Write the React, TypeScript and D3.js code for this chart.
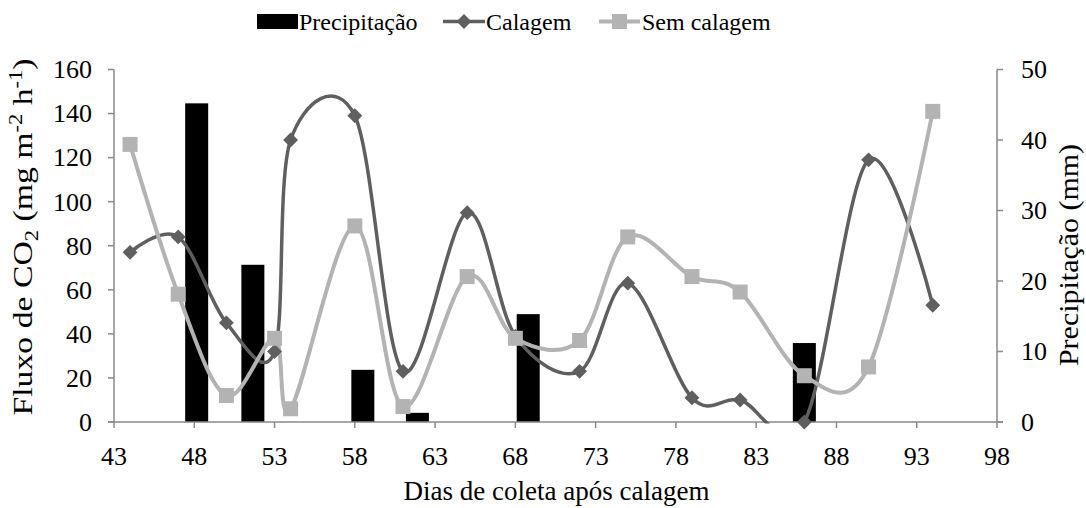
import React from "react";
import * as d3 from "d3";

// Sampling days after liming
const days = [44, 47, 50, 53, 54, 58, 61, 65, 68, 72, 75, 79, 82, 86, 90, 94];
// CO2 flux (mg m-2 h-1) with liming
const calagem = [77, 84, 45, 32, 128, 139, 23, 95, 39, 23, 63, 11, 10, 0, 119, 53];
// CO2 flux (mg m-2 h-1) without liming
const semCalagem = [126, 58, 12, 38, 6, 89, 7, 66, 38, 37, 84, 66, 59, 21, 25, 141];
// Rainfall events (day, mm)
const rainDays = [48.15, 51.65, 58.5, 61.9, 68.8, 86.0];
const rainMm = [45.2, 22.3, 7.4, 1.3, 15.3, 11.2];

const xTicks = [43, 48, 53, 58, 63, 68, 73, 78, 83, 88, 93, 98];
const leftTicks = [0, 20, 40, 60, 80, 100, 120, 140, 160];
const rightTicks = [0, 10, 20, 30, 40, 50];

const W = 1086;
const H = 508;
const L = 114;
const R = 997;
const T = 69.5;
const B = 422;

const FONT = "'Liberation Serif', 'Times New Roman', serif";
const AXIS = "#898989";
const DARK = "#5f5f5f";
const LIGHT = "#b3b3b3";

export default function App() {
  const x = d3.scaleLinear().domain([43, 98]).range([L, R]);
  const yL = d3.scaleLinear().domain([0, 160]).range([B, T]);
  const yR = d3.scaleLinear().domain([0, 50]).range([B, T]);

  const line = d3
    .line<[number, number]>()
    .x((d) => x(d[0]))
    .y((d) => yL(d[1]))
    .curve(d3.curveCatmullRom.alpha(0));

  const calPts = days.map((d, i) => [d, calagem[i]] as [number, number]);
  const semPts = days.map((d, i) => [d, semCalagem[i]] as [number, number]);

  const diamond = d3.symbol(d3.symbolSquare, 110)() as string;
  const square = d3.symbol(d3.symbolSquare, 225)() as string;
  const barW = 23;

  return (
    <svg
      width={W}
      height={H}
      style={{ position: "absolute", left: 0, top: 0, fontFamily: FONT }}
    >
      <rect x={0} y={0} width={W} height={H} fill="#fff" />
      <defs>
        <clipPath id="plotClip">
          <rect x={L} y={0} width={R - L} height={B + 1.5} />
        </clipPath>
      </defs>

      {/* rainfall bars */}
      {rainDays.map((d, i) => (
        <rect
          key={"bar" + i}
          x={x(d) - barW / 2}
          y={yR(rainMm[i])}
          width={barW}
          height={B - yR(rainMm[i])}
          fill="#000"
        />
      ))}

      {/* axes */}
      <line x1={L} x2={L} y1={T} y2={B} stroke={AXIS} strokeWidth={1.5} />
      <line x1={R} x2={R} y1={T} y2={B} stroke={AXIS} strokeWidth={1.5} />
      <line x1={L - 6} x2={R + 6} y1={B} y2={B} stroke={AXIS} strokeWidth={1.5} />
      {leftTicks.map((t) => (
        <g key={"lt" + t}>
          <line x1={L - 6} x2={L} y1={yL(t)} y2={yL(t)} stroke={AXIS} strokeWidth={1.5} />
          <text x={92} y={yL(t)} dy="0.34em" textAnchor="end" fontSize={26} fill="#000">
            {t}
          </text>
        </g>
      ))}
      {rightTicks.map((t) => (
        <g key={"rt" + t}>
          <line x1={R} x2={R + 6} y1={yR(t)} y2={yR(t)} stroke={AXIS} strokeWidth={1.5} />
          <text x={1021} y={yR(t)} dy="0.34em" textAnchor="start" fontSize={26} fill="#000">
            {t}
          </text>
        </g>
      ))}
      {xTicks.map((t) => (
        <g key={"xt" + t}>
          <line x1={x(t)} x2={x(t)} y1={B} y2={B + 6} stroke={AXIS} strokeWidth={1.5} />
          <text x={x(t)} y={465} textAnchor="middle" fontSize={26} fill="#000">
            {t}
          </text>
        </g>
      ))}

      {/* flux lines */}
      <g clipPath="url(#plotClip)">
        <path d={line(calPts) as string} fill="none" stroke={DARK} strokeWidth={3.5} />
        <path d={line(semPts) as string} fill="none" stroke={LIGHT} strokeWidth={4} />
      </g>
      {calPts.map((p, i) => (
        <path
          key={"cm" + i}
          d={diamond}
          transform={`translate(${x(p[0])},${yL(p[1])}) rotate(45)`}
          fill={DARK}
        />
      ))}
      {semPts.map((p, i) => (
        <path key={"sm" + i} d={square} transform={`translate(${x(p[0])},${yL(p[1])})`} fill={LIGHT} />
      ))}

      {/* axis titles */}
      <text
        transform={`translate(32,237) rotate(-90) scale(1.25,1)`}
        textAnchor="middle"
        fontSize={27}
        fill="#000"
      >
        Fluxo de CO<tspan fontSize={18} dy={6}>2</tspan>
        <tspan dy={-6}> (mg m</tspan>
        <tspan fontSize={18} dy={-10}>-2</tspan>
        <tspan dy={10}> h</tspan>
        <tspan fontSize={18} dy={-10}>-1</tspan>
        <tspan dy={10}>)</tspan>
      </text>
      <text
        transform={`translate(1078,255) rotate(-90) scale(1.11,1)`}
        textAnchor="middle"
        fontSize={27}
        fill="#000"
      >
        Precipitação (mm)
      </text>
      <text x={556.5} y={500} textAnchor="middle" fontSize={27} fill="#000">
        Dias de coleta após calagem
      </text>

      {/* legend */}
      <rect x={257} y={14} width={41} height={15} fill="#000" />
      <text x={299} y={29.5} fontSize={24} fill="#000">
        Precipitação
      </text>
      <line x1={443} x2={485} y1={21.5} y2={21.5} stroke={DARK} strokeWidth={3.5} />
      <path d={diamond} transform="translate(464,21.5) rotate(45)" fill={DARK} />
      <text x={486} y={29.5} fontSize={24} fill="#000">
        Calagem
      </text>
      <line x1={599} x2={640} y1={21.5} y2={21.5} stroke={LIGHT} strokeWidth={4} />
      <path d={square} transform="translate(619.5,21.5)" fill={LIGHT} />
      <text x={642} y={29.5} fontSize={24} fill="#000">
        Sem calagem
      </text>
    </svg>
  );
}
